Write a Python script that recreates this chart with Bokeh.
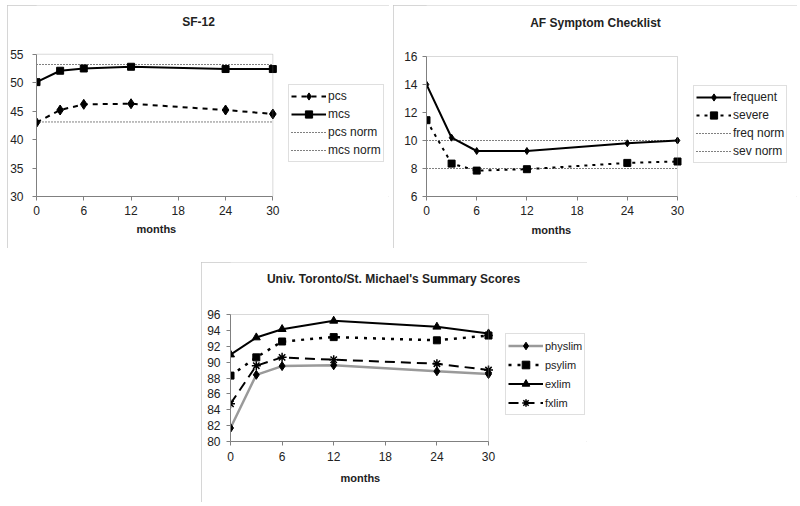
from bokeh.plotting import figure
from bokeh.models import (Range1d, FixedTicker, Legend, LegendItem, Spacer,
                          BoxAnnotation, Label, Title)
from bokeh.layouts import column, row
from bokeh.embed import file_html
from bokeh.resources import INLINE

months = [0, 3, 6, 12, 24, 30]
month_ticks = [0, 6, 12, 18, 24, 30]

# SF-12
pcs = [43.0, 45.2, 46.2, 46.3, 45.2, 44.5]
mcs = [50.1, 52.1, 52.5, 52.8, 52.4, 52.4]
pcs_norm = [43.1, 43.1]
mcs_norm = [53.2, 53.2]
sf_ticks = [30, 35, 40, 45, 50, 55]

# AF Symptom Checklist
frequent = [14.0, 10.2, 9.25, 9.25, 9.8, 10.0]
severe = [11.45, 8.35, 7.85, 7.95, 8.4, 8.5]
freq_norm = [10.0, 10.0]
sev_norm = [8.0, 8.0]
af_ticks = [6, 8, 10, 12, 14, 16]

# Univ. Toronto / St. Michael's
physlim = [81.7, 88.4, 89.5, 89.6, 88.85, 88.5]
psylim = [88.3, 90.6, 92.6, 93.15, 92.75, 93.35]
exlim = [90.95, 93.1, 94.15, 95.2, 94.45, 93.6]
fxlim = [84.75, 89.55, 90.6, 90.3, 89.8, 89.0]
ut_ticks = [80, 82, 84, 86, 88, 90, 92, 94, 96]

norm_x = [0, 30]

FONT = "Liberation Sans"
GRAY = "#808080"
TXT = "#222222"


def make_fig(title, w, h, box, yticks, title_xy, months_off, months_stand,
             ystand, xstand):
    """box = (left, right, top, bottom) of the plot box in panel pixels."""
    bl, br, bt, bb = box
    xmin, xmax = month_ticks[0], month_ticks[-1]
    ymin, ymax = yticks[0], yticks[-1]
    frame_w = w - bl
    frame_h = bb
    x_end = xmin + (xmax - xmin) * frame_w / (br - bl)
    y_end = ymin + (ymax - ymin) * frame_h / (bb - bt)
    p = figure(width=w, height=h, output_backend="svg", toolbar_location=None,
               x_range=Range1d(xmin, x_end), y_range=Range1d(ymin, y_end),
               min_border_left=bl, min_border_right=0,
               min_border_top=0, min_border_bottom=h - bb)
    p.styles = {"outline": "1px solid #c8c8c8", "outline-offset": "-1px"}
    p.xgrid.visible = False
    p.ygrid.visible = False
    p.outline_line_color = None
    p.xaxis.ticker = FixedTicker(ticks=month_ticks)
    p.yaxis.ticker = FixedTicker(ticks=yticks)
    p.xaxis.bounds = (xmin, xmax)
    p.yaxis.bounds = (ymin, ymax)
    for ax in (p.xaxis[0], p.yaxis[0]):
        ax.axis_line_color = GRAY
        ax.major_tick_line_color = GRAY
        ax.major_tick_out = 4
        ax.major_tick_in = 0
        ax.minor_tick_line_color = None
        ax.major_label_text_font = FONT
        ax.major_label_text_font_size = "12px"
        ax.major_label_text_color = TXT
    p.yaxis.major_label_standoff = ystand
    p.xaxis.major_label_standoff = xstand
    p.add_layout(BoxAnnotation(left=xmin, right=xmax, bottom=ymin, top=ymax,
                               fill_alpha=0, line_color=GRAY, line_width=1))
    tx, ty = title_xy
    p.add_layout(Label(x=tx - bl, y=bb - ty, x_units="screen", y_units="screen",
                       text=title, text_align="center", text_baseline="middle",
                       text_font=FONT, text_font_size="12px",
                       text_font_style="bold", text_color=TXT))
    p.add_layout(Title(text="months", align="left", offset=months_off,
                       standoff=months_stand, text_font=FONT,
                       text_font_size="11px", text_font_style="bold",
                       text_color=TXT), "below")
    return p


def make_legend(items, loc, gw, gh, fs):
    return Legend(items=items, location=loc, padding=2, spacing=0,
                  glyph_width=gw, glyph_height=gh, label_standoff=2,
                  label_text_font=FONT, label_text_font_size=fs,
                  label_text_color=TXT, label_height=gh,
                  border_line_color="#c0c0c0", border_line_width=1,
                  background_fill_color="white", background_fill_alpha=1,
                  margin=0)


# ---- SF-12 ----
# panel at x 7..389, y 5..248
p1 = make_fig("SF-12", 382, 243, (28, 265, 49, 192), sf_ticks, (190, 17), 100, 6,
              9, 5)
r_pn = p1.line(norm_x, pcs_norm, line_color="black", line_width=1, line_dash="1 2")
r_mn = p1.line(norm_x, mcs_norm, line_color="black", line_width=1, line_dash="1 2")
r_pcs_l = p1.line(months, pcs, line_color="black", line_width=2, line_dash="5 5")
r_pcs_m = p1.scatter(months, pcs, marker="diamond", size=10, color="black")
r_mcs_l = p1.line(months, mcs, line_color="black", line_width=2)
r_mcs_m = p1.scatter(months, mcs, marker="square", size=7, color="black")
p1.add_layout(make_legend([
    LegendItem(label="pcs", renderers=[r_pcs_l, r_pcs_m]),
    LegendItem(label="mcs", renderers=[r_mcs_l, r_mcs_m]),
    LegendItem(label="pcs norm", renderers=[r_pn]),
    LegendItem(label="mcs norm", renderers=[r_mn]),
], (252, 34), 35, 18, "12px"))

# ---- AF Symptom Checklist ----
# panel at x 393..797, y 5..248
p2 = make_fig("AF Symptom Checklist", 404, 243, (33, 284, 51, 191), af_ticks,
              (202, 17), 105, 9, 5, 5)
r_fn = p2.line(norm_x, freq_norm, line_color="black", line_width=1, line_dash="1 2")
r_sn = p2.line(norm_x, sev_norm, line_color="black", line_width=1, line_dash="1 2")
r_fr_l = p2.line(months, frequent, line_color="black", line_width=2)
r_fr_m = p2.scatter(months, frequent, marker="diamond", size=7, color="black")
r_sv_l = p2.line(months, severe, line_color="black", line_width=2, line_dash="3 5")
r_sv_m = p2.scatter(months, severe, marker="square", size=7, color="black")
p2.add_layout(make_legend([
    LegendItem(label="frequent", renderers=[r_fr_l, r_fr_m]),
    LegendItem(label="severe", renderers=[r_sv_l, r_sv_m]),
    LegendItem(label="freq norm", renderers=[r_fn]),
    LegendItem(label="sev norm", renderers=[r_sn]),
], (267, 33), 35, 18, "12px"))

# ---- Univ. Toronto / St. Michael's ----
# panel at x 201..587, y 262..502
p3 = make_fig("Univ. Toronto/St. Michael's Summary Scores", 386, 240,
              (29, 287, 52, 179), ut_ticks, (192, 16), 110, 13, 6, 6)
r_ph_l = p3.line(months, physlim, line_color="#9a9a9a", line_width=2.5)
r_ph_m = p3.scatter(months, physlim, marker="diamond", size=9, color="black")
r_ps_l = p3.line(months, psylim, line_color="black", line_width=2.5, line_dash="3 6")
r_ps_m = p3.scatter(months, psylim, marker="square", size=7, color="black")
r_ex_l = p3.line(months, exlim, line_color="black", line_width=2)
r_ex_m = p3.scatter(months, exlim, marker="triangle", size=8, color="black")
r_fx_l = p3.line(months, fxlim, line_color="black", line_width=2, line_dash="10 6")
r_fx_m = p3.scatter(months, fxlim, marker="asterisk", size=9, line_color="black",
                    line_width=1.5)
p3.add_layout(make_legend([
    LegendItem(label="physlim", renderers=[r_ph_l, r_ph_m]),
    LegendItem(label="psylim", renderers=[r_ps_l, r_ps_m]),
    LegendItem(label="exlim", renderers=[r_ex_l, r_ex_m]),
    LegendItem(label="fxlim", renderers=[r_fx_l, r_fx_m]),
], (275, 26), 35, 19, "11px"))

layout = column(
    Spacer(width=10, height=5),
    row(Spacer(width=7, height=243), p1, Spacer(width=4, height=243), p2),
    Spacer(width=10, height=14),
    row(Spacer(width=201, height=240), p3),
)

open("out.html", "w").write(file_html(layout, INLINE))
